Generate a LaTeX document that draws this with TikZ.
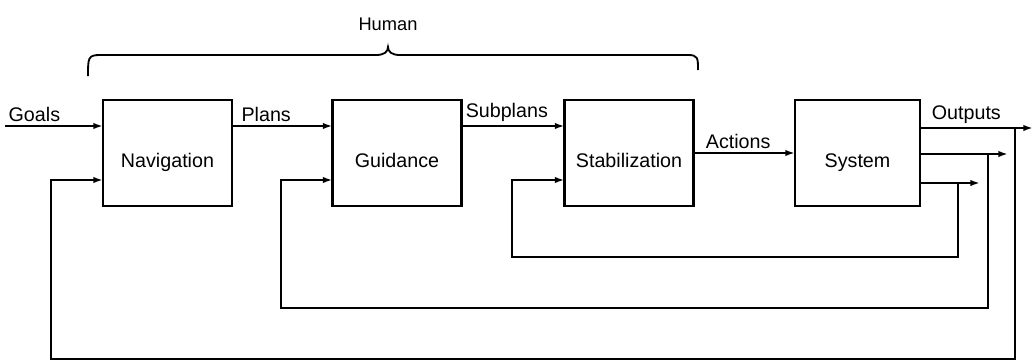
\documentclass[tikz,border=0pt]{standalone}
\usepackage{fontspec}
\setmainfont{Liberation Sans}
\usetikzlibrary{arrows.meta}

\tikzset{
    block/.style={draw, line width=1.8pt, minimum width=3.225cm, minimum height=2.65cm,
        text height=0.7cm, text depth=0cm, inner sep=0pt, outer sep=0pt,
        font=\fontsize{14}{16}\selectfont},
    wire/.style={line width=1.7pt},
    arr/.style={wire, -{Latex[length=0.24cm, width=0.16cm]}},
    lbl/.style={above, inner sep=2pt, font=\fontsize{14}{16}\selectfont},
}

\begin{document}
\begin{tikzpicture}[x=0.025cm, y=-0.025cm]
            \useasboundingbox (0,0) rectangle (1035,362);

            % blocks
            \node[block] (nav) at (167.5,153) {Navigation};
            \node[block] (gui) at (397,153) {Guidance};
            \node[block] (stab) at (629,153) {Stabilization};
            \node[block, minimum width=3.125cm] (sys) at (857.5,153) {System};

            % brace over the human part
            \draw[wire, line width=1.3pt] (88,76) .. controls (88,58) and (88,55) .. (100,55) -- (376,55)
                .. controls (384,55) and (388,52) .. (388,47)
                .. controls (388,52) and (392,55) .. (400,55) -- (688,55)
                .. controls (698,55) and (698,58) .. (698,70);
            \node[font=\fontsize{13}{15}\selectfont] (human) at (388,24) {Human};

            % forward path
            \coordinate (goals) at (5,126);
            \draw[arr] (goals) -- (goals -| nav.west) node[lbl, pos=0.3] {Goals};
            \draw[arr] (nav.east |- goals) -- (gui.west |- goals) node[lbl, pos=0.34] {Plans};
            \draw[arr] (gui.east |- goals) -- (stab.west |- goals) node[lbl, pos=0.44] {Subplans};
            \draw[arr] (stab.east) -- (sys.west) node[lbl, pos=0.44] {Actions};

            % outputs
            \coordinate (out1) at (1033,128);
            \coordinate (out2) at (1008,154);
            \coordinate (out3) at (980,183);
            \draw[arr] (sys.east |- out1) -- (out1) node[lbl, pos=0.41] {Outputs};
            \draw[arr] (sys.east |- out2) -- (out2);
            \draw[arr] (sys.east |- out3) -- (out3);

            % feedback loops
            \coordinate (tap1) at (1015,128);
            \coordinate (tap2) at (988,154);
            \coordinate (tap3) at (958,183);
            \coordinate (fb1) at (51,359);
            \coordinate (fb2) at (281,308);
            \coordinate (fb3) at (512,257);
            \draw[arr] (tap1) |- (fb1) |- (nav.west |- 0,180);
            \draw[arr] (tap2) |- (fb2) |- (gui.west |- 0,180);
            \draw[arr] (tap3) |- (fb3) |- (stab.west |- 0,180);
        \end{tikzpicture}
\end{document}
